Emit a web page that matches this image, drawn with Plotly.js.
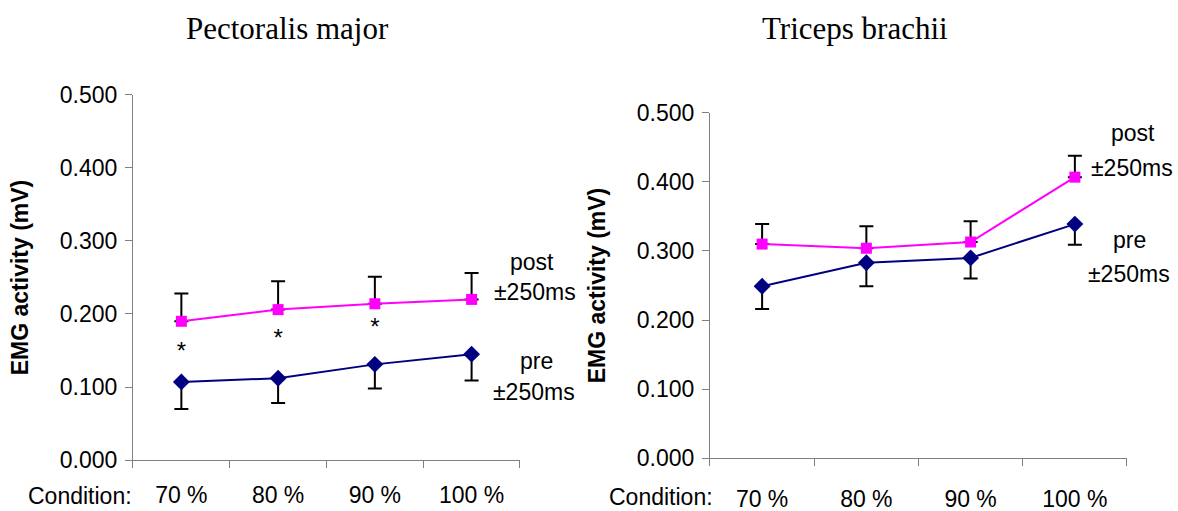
<!DOCTYPE html>
<html>
<head>
<meta charset="utf-8">
<script src="https://cdn.plot.ly/plotly-3.0.1.min.js"></script>
<style>html,body{margin:0;padding:0;background:#fff;}#chart{width:1178px;height:511px;}</style>
</head>
<body>
<div id="chart"></div>
<script>
const categories = ["70 %", "80 %", "90 %", "100 %"];
// Pectoralis major
const pecPost = [0.190, 0.206, 0.214, 0.220];
const pecPostErr = [0.038, 0.039, 0.037, 0.036];
const pecPre = [0.107, 0.112, 0.131, 0.145];
const pecPreErr = [0.037, 0.034, 0.033, 0.036];
const pecStars = [0.146, 0.164, 0.180];
// Triceps brachii
const triPost = [0.310, 0.304, 0.313, 0.407];
const triPostErr = [0.029, 0.032, 0.030, 0.031];
const triPre = [0.249, 0.283, 0.290, 0.339];
const triPreErr = [0.033, 0.034, 0.030, 0.030];
const zeros = [0, 0, 0, 0];

const NAVY = "#000080", MAG = "#FF00FF";
const FONT = "Liberation Sans, Arial, sans-serif";
const SERIF = "Liberation Serif, Times New Roman, serif";
const FS = 23;

function series(xa, ya, y, up, down, color, symbol, size) {
  return {
    type: "scatter", mode: "lines+markers", x: categories, y: y, xaxis: xa, yaxis: ya,
    line: {color: color, width: 2},
    marker: {color: color, symbol: symbol, size: size},
    error_y: {type: "data", symmetric: false, array: up, arrayminus: down,
      color: "#000", thickness: 2, width: 7},
    showlegend: false, cliponaxis: false
  };
}

const traces = [
  series("x", "y", pecPost, pecPostErr, zeros, MAG, "square", 11),
  series("x", "y", pecPre, zeros, pecPreErr, NAVY, "diamond", 13),
  series("x2", "y2", triPost, triPostErr, zeros, MAG, "square", 11),
  series("x2", "y2", triPre, zeros, triPreErr, NAVY, "diamond", 13),
  {type: "scatter", mode: "text", x: categories.slice(0, 3), y: pecStars, text: ["*", "*", "*"],
   textfont: {family: FONT, size: 24, color: "#000"}, xaxis: "x", yaxis: "y", showlegend: false, hoverinfo: "skip"}
];

function yax(domain) {
  return {domain: domain, range: [0, 0.5], dtick: 0.1, tickformat: ".3f", showgrid: false, zeroline: false,
    showline: true, linecolor: "#808080", linewidth: 1, ticks: "outside", ticklen: 7, tickcolor: "#808080",
    tickfont: {family: FONT, size: FS, color: "#000"}, ticklabelstandoff: 3,
    title: {text: "<b>EMG activity (mV)</b>", font: {family: FONT, size: 23, color: "#000"}, standoff: 24},
    fixedrange: true};
}
function xax(domain, anchor, standoff) {
  return {domain: domain, anchor: anchor, type: "category", range: [-0.5, 3.5], tickson: "boundaries",
    showgrid: false, zeroline: false, showline: true, linecolor: "#808080", linewidth: 1,
    ticks: "outside", ticklen: 7, tickcolor: "#808080",
    tickfont: {family: FONT, size: FS, color: "#000"}, ticklabelstandoff: standoff, fixedrange: true};
}

const layout = {
  width: 1178, height: 511, margin: {l: 0, r: 0, t: 0, b: 0},
  paper_bgcolor: "#fff", plot_bgcolor: "#fff", showlegend: false,
  xaxis: xax([0.1129, 0.4414], "y", 14),
  yaxis: yax([0.0998, 0.8141]),
  xaxis2: xax([0.6027, 0.9567], "y2", 20),
  yaxis2: Object.assign(yax([0.1037, 0.7789]), {anchor: "x2"}),
  annotations: [
    {text: "Pectoralis major", x: 287, y: 28, font: {family: SERIF, size: 31, color: "#000"}},
    {text: "Triceps brachii", x: 855, y: 28, font: {family: SERIF, size: 31, color: "#000"}},
    {text: "Condition:", x: 80, y: 496, font: {family: FONT, size: FS, color: "#000"}},
    {text: "Condition:", x: 661, y: 497, font: {family: FONT, size: FS, color: "#000"}},
    {text: "post", x: 532, y: 262, font: {family: FONT, size: FS, color: "#000"}},
    {text: "±250ms", x: 535, y: 292, font: {family: FONT, size: FS, color: "#000"}},
    {text: "pre", x: 536, y: 361, font: {family: FONT, size: FS, color: "#000"}},
    {text: "±250ms", x: 534, y: 392, font: {family: FONT, size: FS, color: "#000"}},
    {text: "post", x: 1133, y: 133, font: {family: FONT, size: FS, color: "#000"}},
    {text: "±250ms", x: 1132, y: 168, font: {family: FONT, size: FS, color: "#000"}},
    {text: "pre", x: 1129, y: 240, font: {family: FONT, size: FS, color: "#000"}},
    {text: "±250ms", x: 1129, y: 274, font: {family: FONT, size: FS, color: "#000"}}
  ].map(a => Object.assign({xref: "paper", yref: "paper", showarrow: false, xanchor: "center", yanchor: "middle"},
      a, {x: a.x / 1178, y: 1 - a.y / 511}))
};

Plotly.newPlot("chart", traces, layout, {staticPlot: true, displayModeBar: false});
</script>
</body>
</html>
